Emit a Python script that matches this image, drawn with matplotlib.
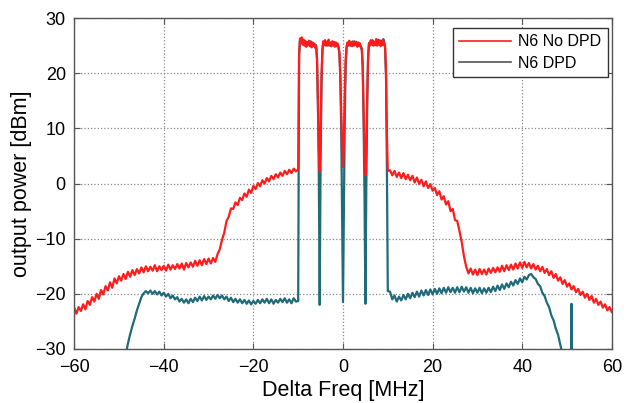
import numpy as np
import matplotlib
matplotlib.use("Agg")
import matplotlib.pyplot as plt
from matplotlib.lines import Line2D

plt.rcParams['font.family'] = ['Liberation Sans', 'DejaVu Sans']

# ---- data (dBm vs MHz) ----
# out-of-band, no DPD, left side: -60 .. -10.5 MHz, 0.5 MHz step
nodpd_left = [-22.5, -23.6, -22.4, -23.1, -21.9, -22.8, -21.3, -22.0, -20.6, -21.4,
              -20.0, -20.9, -19.3, -20.1, -18.6, -19.4, -17.9, -18.9, -17.2, -18.1,
              -16.8, -17.6, -16.4, -17.3, -16.0, -16.9, -15.7, -16.6, -15.5, -16.3,
              -15.2, -16.1, -15.0, -15.9, -15.1, -15.8, -14.8, -15.9, -15.0, -15.7,
              -14.9, -15.8, -14.7, -15.6, -14.8, -15.5, -14.6, -15.4, -14.5, -15.6,
              -14.4, -15.2, -14.3, -15.1, -14.0, -14.9, -13.9, -14.8, -13.7, -14.6,
              -13.6, -14.5, -13.5, -14.2, -12.8, -11.9, -10.2, -8.9, -6.8, -6.0,
              -4.5, -4.6, -3.4, -3.9, -2.6, -3.0, -1.8, -2.4, -1.1, -1.7,
              -0.4, -1.0, 0.1, -0.5, 0.6, 0.0, 1.0, 0.4, 1.4, 0.8,
              1.7, 1.1, 2.0, 1.4, 2.3, 1.7, 2.5, 1.9, 2.7, 2.2]

# out-of-band, no DPD, right side: 10.5 .. 60 MHz, 0.5 MHz step
nodpd_right = [2.4, 1.5, 2.3, 1.2, 2.0, 1.0, 1.9, 0.8, 1.6, 0.6,
               1.4, 0.2, 1.1, -0.1, 0.7, -0.5, 0.4, -0.8, -0.1, -1.3,
               -0.8, -2.1, -1.4, -2.9, -2.3, -3.8, -3.2, -5.0, -4.6, -6.6,
               -6.8, -8.6, -10.6, -13.2, -15.1, -16.3, -15.4, -16.5, -15.6, -16.6,
               -15.5, -16.4, -15.6, -16.5, -15.4, -16.2, -15.3, -16.1, -15.2, -16.0,
               -14.9, -15.9, -14.8, -15.7, -14.7, -15.6, -14.5, -15.4, -14.3, -15.3,
               -14.2, -15.2, -14.4, -15.4, -14.6, -15.6, -14.9, -15.9, -15.1, -16.2,
               -15.5, -16.6, -15.9, -17.1, -16.4, -17.6, -17.0, -18.2, -17.5, -18.7,
               -18.1, -19.2, -18.6, -19.7, -19.1, -20.2, -19.6, -20.7, -20.0, -21.1,
               -20.4, -21.6, -20.9, -22.0, -21.4, -22.5, -21.9, -23.0, -22.4, -23.3]

# out-of-band, DPD, left side: -49 .. -10.5 MHz, 0.5 MHz step
dpd_left = [-33.0, -31.0, -29.0, -27.3, -25.8, -24.5, -23.0, -21.8, -20.6, -19.9,
            -19.5, -19.9, -19.4, -20.0, -19.5, -20.1, -19.6, -20.3, -19.8, -20.5,
            -20.0, -20.8, -20.3, -21.0, -20.6, -21.4, -20.9, -21.6, -21.0, -21.7,
            -20.9, -21.5, -20.7, -21.3, -20.5, -21.2, -20.4, -21.1, -20.5, -21.0,
            -20.3, -20.9, -20.2, -20.8, -20.3, -21.0, -20.5, -21.3, -20.7, -21.5,
            -20.9, -21.6, -21.0, -21.7, -21.1, -21.8, -21.2, -21.9, -21.3, -21.8,
            -21.1, -21.7, -21.0, -21.6, -20.9, -21.7, -21.0, -21.8, -21.1, -21.6,
            -20.9, -21.5, -20.8, -21.6, -21.0, -21.7, -20.8, -21.4]

# out-of-band, DPD, right side: 10.5 .. 50.5 MHz, 0.5 MHz step
dpd_right = [-19.6, -21.0, -20.3, -21.4, -20.5, -21.2, -20.2, -21.0, -20.0, -20.8,
             -19.8, -20.6, -19.6, -20.5, -19.4, -20.3, -19.3, -20.2, -19.2, -20.1,
             -19.1, -20.0, -19.0, -19.9, -18.9, -19.8, -18.8, -19.7, -18.9, -19.8,
             -18.8, -19.7, -18.7, -19.6, -18.8, -19.8, -18.9, -19.9, -19.0, -19.8,
             -18.9, -19.9, -19.0, -19.8, -18.9, -19.7, -18.7, -19.5, -18.5, -19.3,
             -18.3, -19.1, -18.1, -18.8, -17.8, -18.5, -17.5, -18.2, -17.2, -17.9,
             -16.9, -17.4, -16.6, -16.4, -17.0, -17.3, -18.2, -18.6, -19.8, -20.4,
             -21.6, -22.4, -23.9, -24.8, -26.3, -27.4, -29.2, -31.0, -33.0, -34.0,
             -35.0]
# isolated spur near 51 MHz (DPD trace)
spur_x = [50.9, 51.0, 51.1, 52.0]
spur_y = [-35.0, -21.8, -35.0, -36.0]

# in-band: four carriers, -10 .. 10 MHz, 0.2 MHz step
band_nodpd = [2.6, 23.5, 26.3, 25.6, 26.5, 25.2, 26.1, 25.0, 25.9, 24.8,
              25.6, 25.1, 25.9, 24.9, 25.5, 24.7, 25.6, 25.0, 25.4, 24.6,
              24.9, 22.5, 15.0, 6.5, 2.2, 9.0, 19.5, 24.3, 25.8, 25.1,
              26.0, 25.0, 25.7, 25.2, 26.1, 25.0, 25.6, 24.9, 25.8, 25.1,
              25.5, 24.8, 25.6, 25.0, 25.4, 24.6, 23.8, 20.0, 13.5, 6.0,
              3.0, 8.0, 16.5, 22.5, 24.8, 25.6, 25.0, 25.9, 25.2, 25.7,
              24.9, 25.6, 25.0, 25.8, 25.1, 25.5, 24.8, 25.6, 25.0, 25.4,
              24.7, 24.2, 21.5, 13.0, 5.0, 1.5, 7.0, 16.0, 23.0, 25.5,
              25.0, 26.0, 25.2, 25.9, 25.0, 25.7, 25.1, 26.2, 25.0, 25.8,
              25.2, 26.0, 24.9, 25.6, 25.1, 25.9, 25.3, 24.6, 20.0, 9.0,
              2.3]
band_dpd = [-21.3, 23.0, 26.0, 25.8, 26.2, 25.5, 25.9, 25.3, 25.6, 25.1,
            25.4, 25.6, 25.2, 25.3, 25.8, 25.0, 25.3, 25.4, 25.0, 24.9,
            25.1, 22.8, 14.5, 2.0, -22.0, 4.0, 18.0, 24.0, 25.6, 25.4,
            25.7, 25.3, 25.5, 25.0, 25.8, 25.4, 25.2, 25.3, 25.5, 25.0,
            25.7, 25.1, 25.3, 24.9, 25.2, 24.8, 23.5, 19.0, 10.0, -5.0,
            -21.5, -4.0, 12.0, 21.5, 24.6, 25.3, 25.4, 25.6, 25.0, 25.5,
            25.2, 25.8, 25.1, 25.4, 25.3, 25.7, 25.0, 25.4, 25.2, 25.0,
            24.9, 24.5, 21.0, 11.0, -2.0, -21.8, -1.0, 14.0, 22.5, 25.2,
            25.6, 25.8, 25.5, 26.0, 25.3, 25.6, 25.2, 25.9, 25.4, 26.1,
            25.3, 25.8, 25.2, 25.9, 25.5, 26.2, 25.7, 24.9, 19.5, 3.0,
            -19.5]

xticks = [-60, -40, -20, 0, 20, 40, 60]
yticks = [-30, -20, -10, 0, 10, 20, 30]

# frequency grids for the lists above
x_nodpd_left = -60 + 0.5 * np.arange(len(nodpd_left))
x_nodpd_right = 10.5 + 0.5 * np.arange(len(nodpd_right))
x_dpd_left = -49 + 0.5 * np.arange(len(dpd_left))
x_dpd_right = 10.5 + 0.5 * np.arange(len(dpd_right))
x_band = -10 + 0.2 * np.arange(len(band_nodpd))

x_nodpd = np.concatenate([x_nodpd_left, x_band, x_nodpd_right])
y_nodpd = np.concatenate([nodpd_left, band_nodpd, nodpd_right])
x_dpd = np.concatenate([x_dpd_left, x_band, x_dpd_right, spur_x])
y_dpd = np.concatenate([dpd_left, band_dpd, dpd_right, spur_y])

red = '#ff1c1c'
teal = '#1f6b7a'

fig = plt.figure(figsize=(6.34, 4.03), dpi=100)
ax = fig.add_axes([0.117, 0.134, 0.848, 0.821])

ax.plot(x_dpd, y_dpd, color=teal, lw=1.6)
ax.plot(x_nodpd, y_nodpd, color=red, lw=1.6)

ax.set_xlim(-60, 60)
ax.set_ylim(-30, 30)
ax.set_xticks(xticks)
ax.set_yticks(yticks)
ax.tick_params(direction='in', length=4, labelsize=13, top=True, right=True, color='#555555')
ax.tick_params(axis='x', pad=7)
ax.tick_params(axis='y', pad=6)
ax.grid(True, linestyle=':', color='#888888', lw=0.9)
for s in ax.spines.values():
    s.set_color('#555555')
    s.set_linewidth(1.0)

ax.set_xlabel('Delta Freq [MHz]', fontsize=15.5, labelpad=3)
ax.set_ylabel('output power [dBm]', fontsize=15.5, labelpad=2)

handles = [Line2D([], [], color=red, lw=1.2), Line2D([], [], color='#555555', lw=1.2)]
leg = ax.legend(handles, ['N6 No DPD', 'N6 DPD'], loc='upper right', fontsize=11.5,
                fancybox=False, edgecolor='#333333', handlelength=3.2,
                handletextpad=0.5, labelspacing=0.4, borderpad=0.4,
                bbox_to_anchor=(608 / 634, 1 - 28 / 403), bbox_transform=fig.transFigure,
                borderaxespad=0, framealpha=1)
leg.get_frame().set_linewidth(1.0)

fig.savefig('out.png', dpi=100)
